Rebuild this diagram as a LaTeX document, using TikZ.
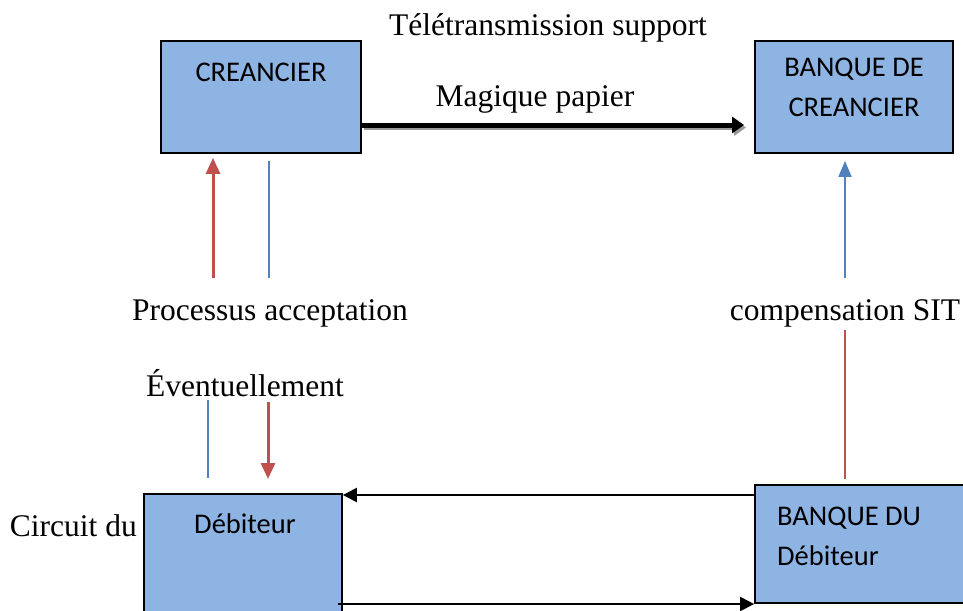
\documentclass[tikz,border=0pt]{standalone}
\usepackage{fontspec}
\setmainfont{Liberation Serif}
\newfontfamily\boxfont{Carlito}
\usetikzlibrary{arrows.meta}
\definecolor{boxblue}{HTML}{8EB4E3}
\definecolor{linkred}{HTML}{C0504D}
\definecolor{linkblue}{HTML}{4F81BD}
\tikzset{
  x=1pt, y=-1pt,
  party/.style={draw=black, line width=1.8pt, fill=boxblue, inner sep=0pt},
  boxtxt/.style={font=\boxfont\fontsize{28.5}{40}\selectfont, inner sep=0pt, align=left},
  caption/.style={font=\fontsize{31.5}{36}\selectfont, inner sep=0pt},
  redup/.style={draw=linkred, line width=3pt, -{Triangle[length=16pt,width=14pt]}},
  bluelink/.style={draw=linkblue, line width=1.8pt},
  flow/.style={draw=black, line width=2.4pt, -{Triangle[length=14pt,width=14pt]}},
  bigflow/.style={line width=5pt, -{Triangle[length=12pt,width=16pt]}}
}
\begin{document}
\begin{tikzpicture}
\useasboundingbox (0,0) rectangle (963,610);
\clip (0,0) rectangle (963,610);

% parties
\node[party, minimum width=200pt, minimum height=112pt] (cr) at (261,97) {};
\node[party, minimum width=198pt, minimum height=112pt] (bc) at (854,97) {};
\node[party, minimum width=198pt, minimum height=140pt] (db) at (243,564) {};
\node[party, minimum width=220pt, minimum height=118pt] (bd) at (865,544) {};

% box labels
\node[boxtxt] (crt) at (261,72) {CREANCIER};
\node[boxtxt, align=center] (bct) at (854,87) {BANQUE DE\\CREANCIER};
\node[boxtxt] (dbt) at (245,524) {Débiteur};
\node[boxtxt, anchor=west] (bdt) at (777,536) {BANQUE DU\\Débiteur};

% captions
\node[caption] (tele) at (548,28) {Télétransmission support};
\node[caption] (magi) at (535,99) {Magique papier};
\node[caption] (proc) at (270,313) {Processus acceptation};
\node[caption] (comp) at (845,313) {compensation SIT};
\node[caption] (even) at (245,383) {Éventuellement};
\node[caption, anchor=east] (circ) at (137,526) {Circuit du};

% free ends of the vertical links
\coordinate (ra) at (213,278);
\coordinate (ba) at (269,278);
\coordinate (bb) at (208,400);
\coordinate (rb) at (268,402);
\coordinate (bs) at (845,278);
\coordinate (rs) at (845,330);
\coordinate (rbt) at (268,479);
\coordinate (bbt) at (208,478);

% remittance of the paper support, with a soft shadow
\draw[bigflow, draw=black!40, fill=black!40]
  ([xshift=2pt]cr.east |- 0,127.5) -- ([xshift=-8pt]bc.west |- 0,127.5);
\draw[bigflow, draw=black, fill=black]
  (cr.east |- 0,125) -- ([xshift=-10pt]bc.west |- 0,125);

% acceptance process
\draw[redup] (ra) -- ([yshift=-4pt]cr.south -| ra);
\draw[bluelink] (ba) -- ([yshift=-7pt]cr.south -| ba);
\draw[bluelink] (bb) -- (bbt);
\draw[redup] (rb) -- (rbt);

% clearing
\draw[bluelink, -{Triangle[length=16pt,width=13pt]}] (bs) -- ([yshift=-7pt]bc.south -| bs);
\draw[draw=linkred, line width=1.8pt] (rs) -- ([yshift=5pt]bd.north -| rs);

% between debtor and its bank
\draw[flow] (bd.west |- 0,495) -- (db.east |- 0,495);
\draw[flow] ([xshift=-5pt]db.east |- 0,604) -- (bd.west |- 0,604);
\end{tikzpicture}
\end{document}
